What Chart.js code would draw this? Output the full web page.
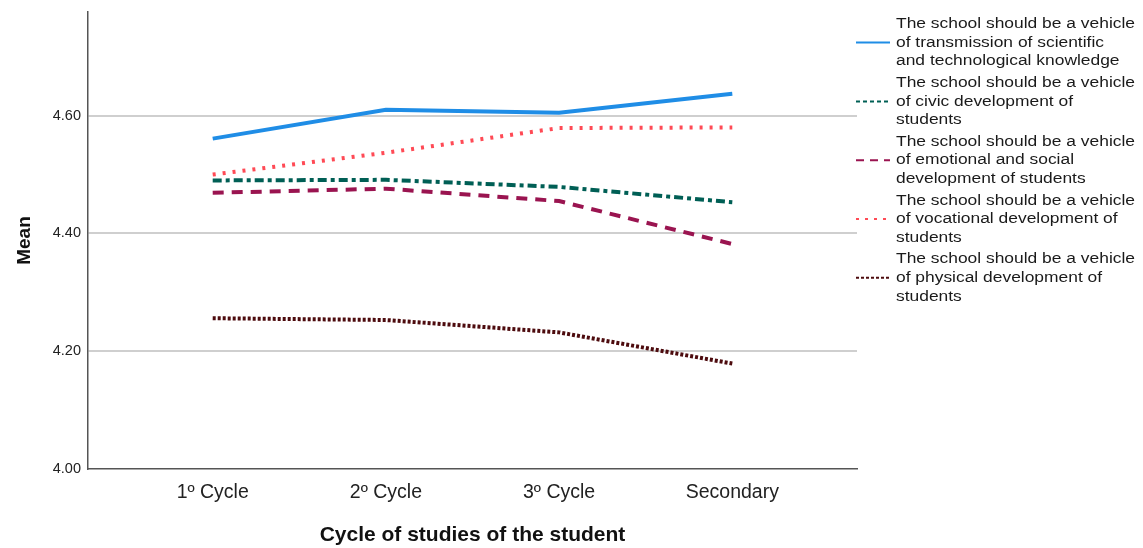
<!DOCTYPE html>
<html>
<head>
<meta charset="utf-8">
<script src="https://cdn.jsdelivr.net/npm/chart.js@4.4.1/dist/chart.umd.min.js"></script>
<style>
  html, body { margin: 0; padding: 0; background: #fff; }
  #wrap { width: 1143px; height: 548px; }
</style>
</head>
<body>
<div id="wrap"><canvas id="myChart" width="1143" height="548"></canvas></div>
<script>
// categories + means
const cycles = ['1º Cycle', '2º Cycle', '3º Cycle', 'Secondary'];
const yTicks = [4.00, 4.20, 4.40, 4.60];

const scientific = [4.561, 4.610, 4.605, 4.637];
const civic      = [4.490, 4.491, 4.479, 4.453];
const emotional  = [4.469, 4.476, 4.455, 4.382];
const vocational = [4.500, 4.537, 4.579, 4.580];
const physical   = [4.256, 4.253, 4.232, 4.179];

const seriesNames = [
  ['The school should be a vehicle', 'of transmission of scientific', 'and technological knowledge'],
  ['The school should be a vehicle', 'of civic development of', 'students'],
  ['The school should be a vehicle', 'of emotional and social', 'development of students'],
  ['The school should be a vehicle', 'of vocational development of', 'students'],
  ['The school should be a vehicle', 'of physical development of', 'students']
];

const styles = [
  { color: '#1f8de6', dash: [], legendDash: [] },
  { color: '#005f55', dash: [9, 4, 4, 4], legendDash: [4, 3] },
  { color: '#9a1450', dash: [11, 8], legendDash: [8, 6] },
  { color: '#ff4a55', dash: [3, 7], legendDash: [3, 6] },
  { color: '#4d0b0e', dash: [3, 2], legendDash: [3, 2] }
];

const values = [scientific, civic, emotional, vocational, physical];

const datasets = values.map((arr, i) => ({
  label: seriesNames[i].join(' '),
  data: arr.map((v, k) => ({ x: k, y: v })),
  borderColor: styles[i].color,
  borderDash: styles[i].dash,
  borderWidth: 4,
  pointRadius: 0,
  tension: 0,
  fill: false
}));

const FONT = '"Liberation Sans", Arial, sans-serif';

// legend drawn by hand so the labels can wrap onto three lines
const sideLegend = {
  id: 'sideLegend',
  afterDraw(chart) {
    const ctx = chart.ctx;
    const x0 = 856, x1 = 890, tx = 896;
    const top = 24, lineH = 18.6, groupH = 58.8;
    ctx.save();
    ctx.font = '15.5px ' + FONT;
    // reference text is a bit wider than Liberation Sans, stretch it
    const sx = 239 / ctx.measureText(seriesNames[0][0]).width;
    ctx.fillStyle = '#1a1a1a';
    ctx.textBaseline = 'middle';
    seriesNames.forEach((lines, i) => {
      const gy = top + i * groupH;
      lines.forEach((t, j) => {
        ctx.save();
        ctx.translate(tx, gy + j * lineH);
        ctx.scale(sx, 1);
        ctx.fillText(t, 0, 0);
        ctx.restore();
      });
      ctx.beginPath();
      ctx.strokeStyle = styles[i].color;
      ctx.lineWidth = 2;
      ctx.setLineDash(styles[i].legendDash);
      ctx.moveTo(x0, gy + lineH);
      ctx.lineTo(x1, gy + lineH);
      ctx.stroke();
    });
    ctx.restore();
  }
};

new Chart(document.getElementById('myChart').getContext('2d'), {
  type: 'line',
  data: { datasets },
  plugins: [sideLegend],
  options: {
    responsive: false,
    animation: false,
    layout: { padding: { top: 12, right: 286, left: 13, bottom: 0 } },
    plugins: { legend: { display: false }, tooltip: { enabled: false } },
    scales: {
      x: {
        type: 'linear',
        min: -0.72,
        max: 3.72,
        afterBuildTicks: s => { s.ticks = cycles.map((c, k) => ({ value: k })); },
        afterFit: s => { s.height = 79; },
        grid: { display: false, drawTicks: false },
        border: { color: '#555', width: 1.5 },
        ticks: {
          callback: v => cycles[v],
          color: '#222',
          padding: 12,
          font: { family: FONT, size: 19.5 }
        },
        title: {
          display: true,
          text: 'Cycle of studies of the student',
          color: '#111',
          padding: { top: 16, bottom: 0 },
          font: { family: FONT, size: 21, weight: 'bold' }
        }
      },
      y: {
        min: 4,
        max: 4.776,
        afterBuildTicks: s => { s.ticks = yTicks.map(v => ({ value: v })); },
        afterFit: s => { s.width = 75; s.paddingTop = 0; },
        grid: {
          color: ctx => ctx.tick && ctx.tick.value === 4 ? 'rgba(0,0,0,0)' : '#cfcfcf',
          lineWidth: 2,
          drawTicks: false
        },
        border: { color: '#555', width: 1.5 },
        ticks: {
          callback: v => Number(v).toFixed(2),
          color: '#222',
          padding: 7,
          font: { family: FONT, size: 14.5 }
        },
        title: {
          display: true,
          text: 'Mean',
          color: '#111',
          padding: 0,
          font: { family: FONT, size: 19, weight: 'bold' }
        }
      }
    }
  }
});
</script>
</body>
</html>
